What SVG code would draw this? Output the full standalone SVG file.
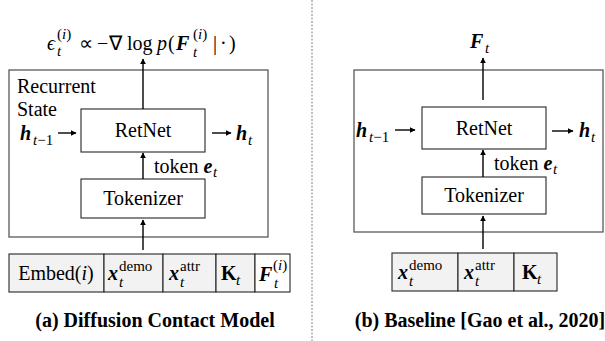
<svg xmlns="http://www.w3.org/2000/svg" width="605" height="341" viewBox="0 0 605 341">
<style>
text{font-family:'Liberation Serif','Times New Roman',serif;fill:#000;font-size:20px}
.it{font-style:italic}
.bi{font-style:italic;font-weight:bold}
.b{font-weight:bold}
.s{font-size:15px}
.cap{font-size:20px;font-weight:bold;text-anchor:middle}
.mid{text-anchor:middle}
.outer{fill:none;stroke:#595959;stroke-width:1.3}
.box{fill:#fff;stroke:#262626;stroke-width:1.1}
.cell{fill:#f2f2f2;stroke:#262626;stroke-width:1.1}
.cellw{fill:#fff;stroke:#262626;stroke-width:1.1}
.ar{stroke:#000;stroke-width:1.4;fill:none;marker-end:url(#ah)}
</style>
<defs>
<marker id="ah" viewBox="0 0 10 10" refX="9" refY="5" markerWidth="6" markerHeight="6" orient="auto" markerUnits="userSpaceOnUse">
<path d="M0,0 L10,5 L0,10 z" fill="#000"/>
</marker>
</defs>

<line x1="312" y1="0" x2="312" y2="341" stroke="#808080" stroke-width="1" stroke-dasharray="2,1.5"/>

<!-- Left panel -->
<g id="a-output">
<text class="it" x="47" y="50">ϵ</text>
<text class="s" x="57" y="39">(<tspan class="it">i</tspan>)</text>
<text class="s it" x="57" y="56">t</text>
<text x="79" y="50">∝</text>
<text x="97" y="50">−</text>
<text x="109" y="50">∇</text>
<text x="127" y="50">log</text>
<text class="it" x="157" y="50">p</text>
<text x="168" y="50">(</text>
<text class="bi" x="176" y="50">F</text>
<text class="s" x="193" y="39">(<tspan class="it">i</tspan>)</text>
<text class="s it" x="193" y="57">t</text>
<text x="213" y="50">|</text>
<text x="220" y="50">·</text>
<text x="229" y="50">)</text>
</g>
<g id="a-state">
<rect class="outer" x="9" y="70" width="259" height="167"/>
<text x="17" y="93">Recurrent</text>
<text x="17" y="116">State</text>
</g>
<g id="a-retnet">
<rect class="box" x="81" y="109" width="124" height="43"/>
<text class="mid" x="143" y="137">RetNet</text>
</g>
<g id="a-hprev">
<text class="bi" x="20" y="140">h</text>
<text class="s" x="33" y="145"><tspan class="it">t</tspan>−1</text>
</g>
<g id="a-hnext">
<text class="bi" x="236" y="140">h</text>
<text class="s it" x="248" y="145">t</text>
</g>
<g id="a-tokenizer">
<rect class="box" x="81" y="179" width="124" height="39"/>
<text class="mid" x="143" y="205">Tokenizer</text>
</g>
<g id="a-token">
<text x="154" y="173">token <tspan class="bi">e</tspan></text>
<text class="s it" x="213" y="177">t</text>
</g>
<g id="a-input">
<rect class="cell" x="9" y="254" width="95" height="38"/>
<rect class="cell" x="104" y="254" width="59" height="38"/>
<rect class="cell" x="163" y="254" width="53" height="38"/>
<rect class="cell" x="216" y="254" width="39" height="38"/>
<rect class="cellw" x="255" y="254" width="35" height="38"/>
<text class="mid" x="56" y="280">Embed(<tspan class="it">i</tspan>)</text>
<text class="bi" x="108" y="280">x</text>
<text class="s it" x="119" y="287">t</text>
<text class="s" x="119" y="271">demo</text>
<text class="bi" x="169" y="280">x</text>
<text class="s it" x="180" y="287">t</text>
<text class="s" x="180" y="271">attr</text>
<text class="b" x="221" y="280">K</text>
<text class="s it" x="236" y="285">t</text>
<text class="bi" x="259" y="281">F</text>
<text class="s it" x="274" y="288">t</text>
<text class="s" x="273" y="270">(<tspan class="it">i</tspan>)</text>
</g>
<text class="cap" x="155" y="327">(a) Diffusion Contact Model</text>

<!-- Right panel -->
<g id="b-output">
<text class="bi" x="470" y="48">F</text>
<text class="s it" x="485" y="53">t</text>
</g>
<g id="b-state">
<rect class="outer" x="354" y="70" width="249" height="162"/>
</g>
<g id="b-retnet">
<rect class="box" x="422" y="107" width="124" height="42"/>
<text class="mid" x="484" y="135">RetNet</text>
</g>
<g id="b-hprev">
<text class="bi" x="356" y="137">h</text>
<text class="s" x="369" y="142"><tspan class="it">t</tspan>−1</text>
</g>
<g id="b-hnext">
<text class="bi" x="579" y="137">h</text>
<text class="s it" x="591" y="142">t</text>
</g>
<g id="b-tokenizer">
<rect class="box" x="422" y="177" width="124" height="37"/>
<text class="mid" x="484" y="202">Tokenizer</text>
</g>
<g id="b-token">
<text x="494" y="170">token <tspan class="bi">e</tspan></text>
<text class="s it" x="553" y="174">t</text>
</g>
<g id="b-input">
<rect class="cell" x="392" y="253" width="66" height="38"/>
<rect class="cell" x="458" y="253" width="56" height="38"/>
<rect class="cell" x="514" y="253" width="43" height="38"/>
<text class="bi" x="398" y="279">x</text>
<text class="s it" x="409" y="286">t</text>
<text class="s" x="409" y="270">demo</text>
<text class="bi" x="464" y="279">x</text>
<text class="s it" x="475" y="286">t</text>
<text class="s" x="475" y="270">attr</text>
<text class="b" x="522" y="279">K</text>
<text class="s it" x="537" y="284">t</text>
</g>
<text class="cap" x="480" y="327">(b) Baseline [Gao et al., 2020]</text>

<g id="connectors">
<line class="ar" x1="143" y1="109" x2="143" y2="59"/>
<line class="ar" x1="58" y1="133" x2="76" y2="133"/>
<line class="ar" x1="212" y1="133" x2="231" y2="133"/>
<line class="ar" x1="143" y1="179" x2="143" y2="153"/>
<line class="ar" x1="143" y1="250" x2="143" y2="220"/>
<line class="ar" x1="483" y1="100" x2="483" y2="58"/>
<line class="ar" x1="395" y1="130" x2="415" y2="130"/>
<line class="ar" x1="552" y1="131" x2="573" y2="131"/>
<line class="ar" x1="483" y1="177" x2="483" y2="150"/>
<line class="ar" x1="483" y1="249" x2="483" y2="216"/>
</g>
</svg>
